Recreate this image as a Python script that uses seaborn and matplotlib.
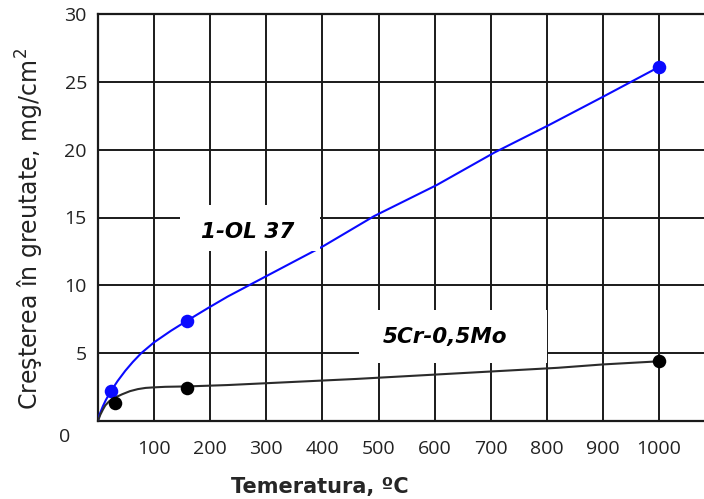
import matplotlib
matplotlib.use("Agg")
import matplotlib.pyplot as plt
import seaborn as sns
import pandas as pd
from matplotlib.patches import Rectangle

# ---- data ----
ol37_curve_x = [0, 3, 8.6, 14, 23, 35, 48.6, 62, 77, 100, 130, 159, 195, 231, 301, 356, 402, 492, 604, 707, 803, 900, 1000]
ol37_curve_y = [0, 0.5, 1.08, 1.55, 2.2, 2.95, 3.7, 4.35, 5.0, 5.8, 6.65, 7.4, 8.3, 9.17, 10.7, 11.9, 12.9, 15.1, 17.4, 19.8, 21.8, 23.9, 26.1]
ol37_pts_x = [23, 159, 1000]
ol37_pts_y = [2.2, 7.4, 26.1]

crmo_curve_x = [0, 4, 8.6, 13, 20, 30, 43, 57, 71, 85, 100, 120, 160, 231, 460, 819, 900, 1000]
crmo_curve_y = [0, 0.45, 0.83, 1.15, 1.46, 1.72, 1.97, 2.2, 2.35, 2.44, 2.48, 2.52, 2.55, 2.65, 3.1, 3.92, 4.17, 4.4]
crmo_pts_x = [30, 159, 1000]
crmo_pts_y = [1.34, 2.4, 4.4]

x_ticks = [100, 200, 300, 400, 500, 600, 700, 800, 900, 1000]
y_ticks = [5, 10, 15, 20, 25, 30]
label_ol37 = "1-OL 37"
label_crmo = "5Cr-0,5Mo"
xlabel = "Temeratura, ºC"
ylabel = "Creşterea în greutate, mg/cm$^2$"

sns.set_theme(style="white")
plt.rcParams['font.family'] = ['DejaVu Sans']

fig = plt.figure(figsize=(7.04, 4.99), dpi=100)
ax = fig.add_axes([98/704, 1-421/499, 1-98/704, (421-14)/499])

blue = "#0a0aff"
dark = "#2b2b2b"

df1 = pd.DataFrame({"x": ol37_curve_x, "y": ol37_curve_y})
df2 = pd.DataFrame({"x": crmo_curve_x, "y": crmo_curve_y})
sns.lineplot(data=df1, x="x", y="y", ax=ax, color=blue, lw=1.5, estimator=None, zorder=3,
             solid_joinstyle="round")
sns.lineplot(data=df2, x="x", y="y", ax=ax, color=dark, lw=1.5, estimator=None, zorder=3,
             solid_joinstyle="round")
sns.scatterplot(x=ol37_pts_x, y=ol37_pts_y, ax=ax, color=blue, s=95, edgecolor=blue, linewidth=0, zorder=6)
sns.scatterplot(x=crmo_pts_x, y=crmo_pts_y, ax=ax, color="black", s=95, edgecolor="black", linewidth=0, zorder=6)

ax.set_xlim(0, 1080)
ax.set_ylim(0, 30)
ax.set_xticks(x_ticks)
ax.set_yticks(y_ticks)
ax.grid(True, color="#1a1a1a", lw=1.4, zorder=1)
ax.set_axisbelow(True)
for s in ["left", "bottom", "top"]:
    ax.spines[s].set_color("#1a1a1a")
    ax.spines[s].set_linewidth(1.6)
ax.spines["right"].set_visible(False)
ax.tick_params(axis="both", length=0, labelsize=14, labelcolor="#222222")
ax.tick_params(axis="x", pad=14)
ax.tick_params(axis="y", pad=8)
for lab in ax.get_xticklabels() + ax.get_yticklabels():
    lab.set_family(["Open Sans", "DejaVu Sans"])
ax.set_xlabel("")
ax.set_ylabel("")
ax.annotate("0", xy=(0, 0), xytext=(-33, -16), textcoords="offset pixels",
            ha="center", va="center", fontsize=14, color="#222222",
            family=["Open Sans", "DejaVu Sans"], annotation_clip=False)

# white label boxes
ax.add_patch(Rectangle((146, 12.5), 250, 3.4, facecolor="white", edgecolor="none", zorder=4))
ax.add_patch(Rectangle((465, 4.25), 335, 3.95, facecolor="white", edgecolor="none", zorder=4))
ax.text(267, 13.9, label_ol37, fontsize=15.5, fontweight="bold", fontstyle="italic",
        ha="center", va="center", color="black", zorder=5)
ax.text(618, 6.2, label_crmo, fontsize=15.5, fontweight="bold", fontstyle="italic",
        ha="center", va="center", color="black", zorder=5)

fig.text(320/704, 1-487/499, xlabel, fontsize=15, fontweight="bold", ha="center", va="center")
fig.text(30/704, 1-229/499, ylabel, fontsize=17, rotation=90, ha="center", va="center", color="#222222")

fig.savefig("out.png", dpi=100)
